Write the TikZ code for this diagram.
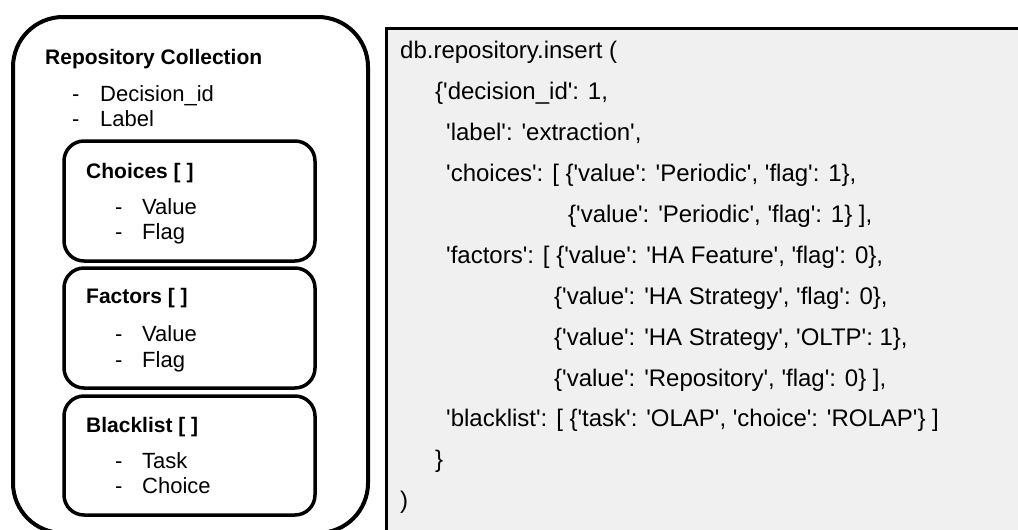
\documentclass[tikz,border=0pt]{standalone}
\usepackage{fontspec}
\newfontfamily\arialf{Liberation Sans}
\definecolor{codebg}{HTML}{F0F0F0}
\tikzset{
  outerbox/.style={draw=black, line width=4pt, rounded corners=50pt, inner sep=0pt,
    minimum width=355pt, minimum height=516pt},
  listbox/.style={draw=black, line width=3.5pt, rounded corners=20pt, inner sep=0pt,
    minimum width=251pt, minimum height=120pt},
  panel/.style={fill=codebg, inner sep=0pt, minimum width=643.5pt, minimum height=516pt},
  panelrule/.style={draw=black, line width=3pt},
  head/.style={anchor=base west, inner sep=0pt, font=\arialf\bfseries\fontsize{21}{25}\selectfont},
  item/.style={anchor=base west, inner sep=0pt, font=\arialf\fontsize{22}{26}\selectfont},
  code/.style={anchor=base west, inner sep=0pt, font=\arialf\fontsize{24}{28}\selectfont},
}
\begin{document}
\begin{tikzpicture}[x=1pt, y=-1pt]
  \useasboundingbox (0,0) rectangle (1018,530);
  \clip (0,0) rectangle (1018,530);

  % collection schema
  \node[outerbox] (repo) at (190.5,275) {};
  \node[head] (repotitle) at (45,64) {Repository Collection};
  \node[item] (d1) at (72,101) {-};
  \node[item] (decid) at (100,101) {Decision\_id};
  \node[item] (d2) at (72,126) {-};
  \node[item] (label) at (100,126) {Label};

  \node[listbox] (choices) at (189.5,201) {};
  \node[head] (choicestitle) at (86,178) {Choices [ ]};
  \node[item] (d3) at (115,214) {-};
  \node[item] (cvalue) at (142,214) {Value};
  \node[item] (d4) at (115,239) {-};
  \node[item] (cflag) at (142,239) {Flag};

  \node[listbox] (factors) at (189.5,328) {};
  \node[head] (factorstitle) at (86,303) {Factors [ ]};
  \node[item] (d5) at (115,341) {-};
  \node[item] (fvalue) at (142,341) {Value};
  \node[item] (d6) at (115,367) {-};
  \node[item] (fflag) at (142,367) {Flag};

  \node[listbox, minimum height=119pt] (blacklist) at (189.5,455.5) {};
  \node[head] (blacklisttitle) at (86,432) {Blacklist [ ]};
  \node[item] (d7) at (115,468) {-};
  \node[item] (btask) at (142,468) {Task};
  \node[item] (d8) at (115,493) {-};
  \node[item] (bchoice) at (142,493) {Choice};

  % insert statement
  \node[panel] (panel) at (708.25,287) {};
  \draw[panelrule] (panel.south west) -- (panel.north west) -- (panel.north east);

  \node[code] (c1)  at (400,58)  {db.repository.insert (};
  \node[code] (c2)  at (435,99)  {\{'decision\_id': 1,};
  \node[code] (c3)  at (446,140) {'label': 'extraction',};
  \node[code] (c4)  at (446,181) {'choices': [ \{'value': 'Periodic', 'flag': 1\},};
  \node[code] (c5)  at (568,222) {\{'value': 'Periodic', 'flag': 1\} ],};
  \node[code] (c6)  at (446,263) {'factors': [ \{'value': 'HA Feature', 'flag': 0\},};
  \node[code] (c7)  at (554,304) {\{'value': 'HA Strategy', 'flag': 0\},};
  \node[code] (c8)  at (554,345) {\{'value': 'HA Strategy', 'OLTP': 1\},};
  \node[code] (c9)  at (554,386) {\{'value': 'Repository', 'flag': 0\} ],};
  \node[code] (c10) at (446,426) {'blacklist': [ \{'task': 'OLAP', 'choice': 'ROLAP'\} ]};
  \node[code] (c11) at (435,467) {\}};
  \node[code] (c12) at (400,508) {)};
\end{tikzpicture}
\end{document}
